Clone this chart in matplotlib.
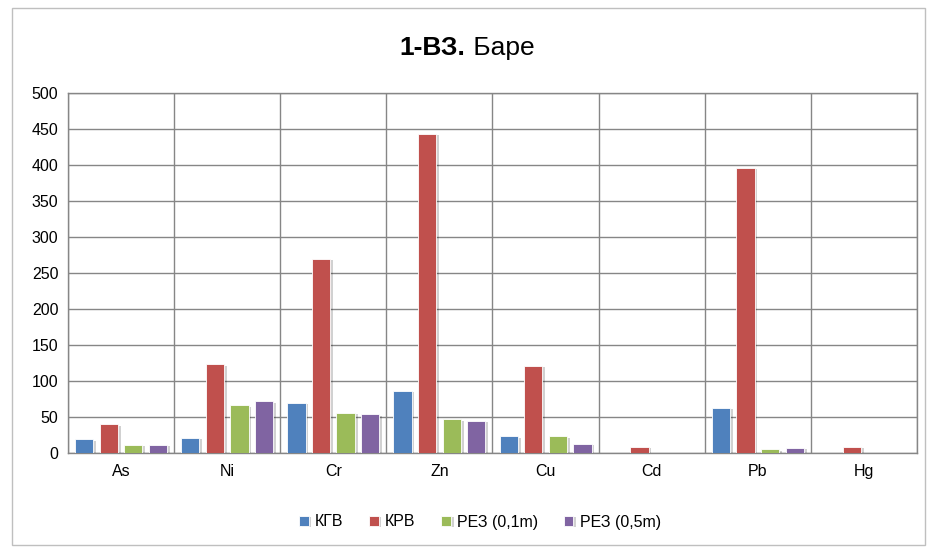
import matplotlib
matplotlib.use("Agg")
import matplotlib.pyplot as plt
import matplotlib.patheffects as pe
import numpy as np
from matplotlib.patches import Rectangle

categories = ["As", "Ni", "Cr", "Zn", "Cu", "Cd", "Pb", "Hg"]
series_names = ["КГВ", "КРВ", "РЕЗ (0,1m)", "РЕЗ (0,5m)"]
kgv = [19, 21, 70, 86, 23, 0, 63, 0]
krv = [40, 123, 270, 443, 121, 9, 396, 9]
rez01 = [11, 66, 56, 47, 23, 0, 5, 0]
rez05 = [11, 72, 54, 45, 13, 0, 7, 0]
colors = ["#4F81BD", "#C0504D", "#9BBB59", "#8064A2"]
yticks = [0, 50, 100, 150, 200, 250, 300, 350, 400, 450, 500]
title_bold = "1-ВЗ."
title_rest = " Баре"

plt.rcParams['font.family'] = ['Liberation Sans', 'DejaVu Sans']

fig = plt.figure(figsize=(9.29, 5.5), dpi=100)
fig.patches.append(Rectangle((12/929, 1-545/550), (925-12)/929, (545-8)/550,
                             transform=fig.transFigure, fill=False,
                             edgecolor="#BFBFBF", linewidth=1))
ax = fig.add_axes([68/929, 1-453/550, (917-68)/929, (453-93)/550])

x = np.arange(len(categories))
pitch = 0.232
width = 0.172
data = [kgv, krv, rez01, rez05]
for i, (vals, c, name) in enumerate(zip(data, colors, series_names)):
    bars = ax.bar(x + (i - 1.5) * pitch, vals, width=width, color=c, label=name,
                  edgecolor="white", linewidth=0.6, zorder=3)
    for b in bars:
        b.set_path_effects([pe.SimplePatchShadow(offset=(2, -1), shadow_rgbFace="#000000", alpha=0.18), pe.Normal()])

ax.set_xlim(-0.5, len(categories) - 0.5)
ax.set_ylim(0, 500)
ax.set_yticks(yticks)
ax.set_yticklabels([str(t) for t in yticks], fontsize=11.5)
ax.set_xticks(x)
ax.set_xticklabels(categories, fontsize=11.5)
ax.tick_params(axis='both', length=0, pad=8)
ax.tick_params(axis='y', pad=7)
ax.set_xticks(np.arange(-0.5, len(categories)), minor=True)
ax.grid(axis='y', which='major', color="#868686", linewidth=1, zorder=0)
ax.grid(axis='x', which='minor', color="#868686", linewidth=1, zorder=0)
ax.tick_params(axis='x', which='minor', length=0)
for s in ax.spines.values():
    s.set_color("#868686")
    s.set_linewidth(1)

# Title: bold part + regular part, centered as a whole
renderer = fig.canvas.get_renderer()
t1 = fig.text(0, 1-48/550, title_bold, ha='left', va='center', fontsize=19, fontweight='bold')
t2 = fig.text(0, 1-48/550, title_rest, ha='left', va='center', fontsize=19)
w1 = t1.get_window_extent(renderer).width
w2 = t2.get_window_extent(renderer).width
cx = 467
start = cx - (w1 + w2) / 2
t1.set_x(start / 929)
t2.set_x((start + w1) / 929)

leg = fig.legend(loc='center', bbox_to_anchor=(480/929, 1-522/550), ncol=4, frameon=False,
                 fontsize=11.5, handlelength=0.6, handleheight=0.6, handletextpad=0.4,
                 columnspacing=1.6)

fig.savefig("out.png", dpi=100)
